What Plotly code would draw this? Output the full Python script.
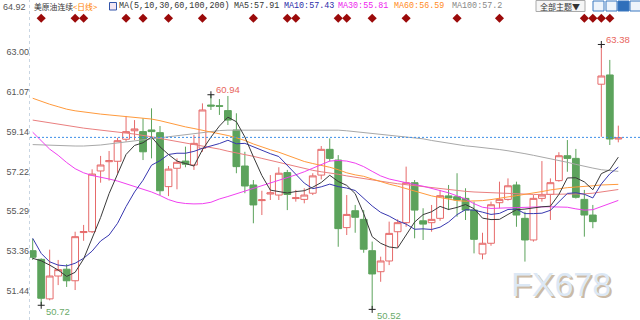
import plotly.graph_objects as go

# ---------------- data ----------------
opens = [53.37, 52.95, 51.03, 52.14, 52.47, 51.91, 54.25, 54.29, 57.24, 57.69,
         57.71, 58.78, 59.19, 59.15, 59.23, 59.10, 56.48, 57.37, 57.72, 57.53,
         58.34, 60.44, 60.41, 60.17, 59.23, 57.48, 56.56, 55.80, 56.12, 56.07,
         57.16, 55.90, 55.86, 56.16, 57.04, 58.29, 57.77, 54.49, 55.31, 54.89,
         53.37, 52.35, 52.87, 54.29, 54.73, 56.67, 54.82, 54.73, 54.94, 56.03,
         55.99, 55.91, 55.34, 53.21, 53.73, 55.70, 55.86, 56.56, 54.94, 53.89,
         55.91, 56.10, 56.77, 57.98, 57.85, 55.86, 55.10, 61.45, 61.90, 58.79]
highs = [53.95, 53.00, 53.42, 52.92, 52.72, 54.29, 54.62, 57.32, 57.97, 58.21,
         58.85, 59.91, 59.71, 59.80, 60.28, 59.42, 57.48, 57.85, 58.42, 58.99,
         60.52, 60.94, 60.73, 60.88, 60.04, 58.17, 56.80, 56.28, 57.04, 57.42,
         57.29, 56.32, 56.40, 57.13, 58.45, 58.82, 58.01, 56.07, 55.59, 55.34,
         53.81, 53.08, 54.78, 54.89, 57.45, 56.80, 55.43, 55.59, 56.32, 56.56,
         57.13, 56.40, 55.75, 54.24, 55.75, 56.72, 56.88, 56.72, 55.26, 56.07,
         57.72, 56.88, 58.15, 58.74, 58.31, 56.32, 55.59, 63.38, 62.63, 59.44]
lows = [52.92, 50.72, 50.96, 51.70, 51.61, 51.46, 53.85, 54.23, 56.67, 56.77,
        57.13, 58.66, 58.74, 57.77, 57.85, 56.07, 56.02, 56.35, 57.42, 57.29,
        58.17, 60.20, 59.96, 59.47, 57.13, 56.16, 54.70, 55.10, 55.83, 55.83,
        55.34, 55.75, 55.67, 56.07, 56.83, 57.70, 53.56, 54.13, 54.24, 53.27,
        50.52, 51.86, 52.67, 53.53, 54.53, 53.97, 53.89, 54.29, 54.82, 55.34,
        55.02, 54.86, 53.24, 52.95, 53.61, 55.43, 55.80, 54.53, 52.84, 53.81,
        55.75, 54.86, 56.72, 57.20, 55.90, 54.05, 54.46, 58.90, 58.50, 58.63]
closes = [53.05, 51.06, 52.14, 52.45, 51.91, 54.05, 54.30, 57.09, 57.53, 57.74,
          58.71, 59.15, 59.28, 58.17, 59.15, 56.28, 57.33, 57.66, 57.57, 58.58,
          60.20, 60.39, 60.38, 59.71, 57.45, 56.51, 55.59, 55.84, 56.18, 57.13,
          56.10, 55.94, 56.07, 57.00, 58.29, 57.85, 54.44, 55.13, 54.99, 53.44,
          52.24, 52.87, 54.21, 54.73, 56.67, 55.34, 54.66, 54.89, 56.04, 55.93,
          55.83, 55.34, 53.92, 53.73, 55.60, 55.86, 56.52, 55.10, 53.89, 55.91,
          56.07, 56.67, 57.98, 57.85, 55.96, 55.10, 54.78, 61.85, 58.79, 58.85]

ma5 = [53.00, 52.88, 52.67, 52.43, 52.12, 52.32, 52.97, 53.96, 54.98, 56.14,
       57.07, 58.04, 58.48, 58.61, 58.89, 58.41, 58.04, 57.72, 57.60, 57.48,
       58.27, 58.88, 59.42, 59.85, 59.63, 58.89, 57.93, 57.02, 56.31, 56.25,
       56.17, 56.24, 56.28, 56.45, 56.68, 57.03, 56.73, 56.54, 56.14, 55.17,
       54.05, 53.73, 53.55, 53.50, 54.14, 54.76, 55.12, 55.26, 55.52, 55.37,
       55.47, 55.61, 55.41, 54.95, 54.88, 54.89, 55.13, 55.36, 55.39, 55.46,
       55.50, 55.53, 56.10, 56.90, 56.91, 56.71, 56.33, 57.11, 57.30, 57.91]
ma10 = [53.97, 53.24, 52.83, 52.67, 52.63, 52.76, 53.00, 53.35, 53.84, 54.13,
        54.70, 55.51, 56.22, 56.79, 57.52, 57.74, 58.04, 58.10, 58.10, 58.19,
        58.34, 58.46, 58.57, 58.73, 58.56, 58.58, 58.40, 58.22, 58.08, 57.94,
        57.53, 57.08, 56.65, 56.38, 56.47, 56.60, 56.48, 56.41, 56.29, 55.93,
        55.54, 55.23, 55.05, 54.82, 54.66, 54.41, 54.43, 54.40, 54.51, 54.76,
        55.12, 55.36, 55.34, 55.24, 55.13, 55.18, 55.37, 55.39, 55.17, 55.17,
        55.19, 55.33, 55.73, 56.15, 56.18, 56.11, 55.93, 56.61, 57.10, 57.43]
ma30 = [59.12, 58.70, 58.30, 58.00, 57.65, 57.35, 57.15, 57.02, 56.95, 56.85,
        56.75, 56.62, 56.50, 56.38, 56.22, 56.05, 55.85, 55.72, 55.66, 55.64,
        55.65, 55.72, 55.88, 56.00, 56.13, 56.25, 56.40, 56.52, 56.65, 56.77,
        56.90, 57.05, 57.20, 57.38, 57.58, 57.72, 57.75, 57.72, 57.62, 57.45,
        57.22, 57.00, 56.85, 56.75, 56.65, 56.58, 56.50, 56.40, 56.30, 56.18,
        56.03, 55.88, 55.65, 55.48, 55.42, 55.42, 55.45, 55.46, 55.48, 55.50,
        55.50, 55.50, 55.50, 55.48, 55.40, 55.34, 55.36, 55.52, 55.68, 55.81]
ma60 = [60.77, 60.62, 60.48, 60.36, 60.24, 60.16, 60.10, 60.05, 60.00, 59.96,
        59.92, 59.89, 59.87, 59.82, 59.76, 59.68, 59.58, 59.45, 59.38, 59.30,
        59.22, 59.15, 59.05, 58.96, 58.85, 58.72, 58.55, 58.40, 58.27, 58.15,
        58.00, 57.85, 57.70, 57.60, 57.52, 57.42, 57.30, 57.15, 57.05, 56.98,
        56.85, 56.72, 56.60, 56.50, 56.38, 56.26, 56.15, 56.03, 55.95, 55.86,
        55.80, 55.77, 55.77, 55.80, 55.85, 55.90, 55.98, 56.04, 56.10, 56.16,
        56.24, 56.32, 56.38, 56.43, 56.46, 56.48, 56.52, 56.56, 56.57, 56.59]
ma100 = [58.52, 58.50, 58.48, 58.46, 58.45, 58.45, 58.45, 58.47, 58.50, 58.55,
         58.60, 58.65, 58.70, 58.75, 58.80, 58.86, 58.92, 58.98, 59.03, 59.08,
         59.12, 59.16, 59.20, 59.22, 59.22, 59.22, 59.22, 59.22, 59.22, 59.22,
         59.22, 59.23, 59.24, 59.25, 59.25, 59.24, 59.22, 59.19, 59.15, 59.10,
         59.05, 59.00, 58.96, 58.93, 58.90, 58.86, 58.80, 58.72, 58.65, 58.58,
         58.52, 58.46, 58.42, 58.38, 58.33, 58.28, 58.22, 58.16, 58.08, 58.00,
         57.92, 57.84, 57.76, 57.66, 57.56, 57.46, 57.38, 57.30, 57.26, 57.22]
ma200 = [59.71, 59.64, 59.57, 59.50, 59.44, 59.38, 59.32, 59.27, 59.23, 59.18,
         59.13, 59.08, 59.03, 58.98, 58.90, 58.82, 58.75, 58.68, 58.60, 58.54,
         58.47, 58.40, 58.30, 58.20, 58.12, 58.05, 57.95, 57.85, 57.75, 57.65,
         57.55, 57.45, 57.35, 57.27, 57.20, 57.15, 57.08, 57.00, 56.93, 56.87,
         56.80, 56.74, 56.68, 56.62, 56.57, 56.52, 56.47, 56.42, 56.38, 56.33,
         56.29, 56.25, 56.22, 56.20, 56.18, 56.16, 56.14, 56.12, 56.10, 56.10,
         56.10, 56.10, 56.10, 56.10, 56.11, 56.13, 56.16, 56.22, 56.28, 56.34]

signal_idx = [1, 5, 6, 11, 13, 16, 20, 26, 30, 31, 36, 37, 40, 44, 50, 55, 65, 66, 67, 68]
marked_high_idx = [21, 67]
marked_low_idx = [1, 40]
price_line = 58.87

y_tick_values = [51.44, 53.36, 55.29, 57.22, 59.14, 61.07, 63.00]
y_tick_labels = ["51.44", "53.36", "55.29", "57.22", "59.14", "61.07", "63.00"]
top_tick_value = 64.92
top_tick_label = "64.92"

legend_items = [
    ("美原油连续", "#333333", 31.5, "cjk"),
    ("<日线>", "#ff8000", 71.0, "cjk"),
    ("MA(5,10,30,60,100,200)", "#333333", 117.0, "mono"),
    ("MA5:57.91", "#333333", 231.5, "mono"),
    ("MA10:57.43", "#2a2aa8", 281.5, "mono"),
    ("MA30:55.81", "#ee22ee", 336.0, "mono"),
    ("MA60:56.59", "#ff8a1c", 391.5, "mono"),
    ("MA100:57.2", "#888888", 450.0, "mono"),
]

# ---------------- styling ----------------
W, H = 640, 320
UP = "#e66a6a"
DOWN = "#5ca35c"
ma_styles = [
    (ma200, "#ea7f7f"),
    (ma100, "#a8a8a8"),
    (ma60, "#ff9a3c"),
    (ma30, "#f040f0"),
    (ma10, "#3838b0"),
    (ma5, "#3a3a3a"),
]


def px_x(p):
    return p / W


def px_y(p):
    return 1 - p / H


n = len(closes)
idx = list(range(n))

fig = go.Figure()
fig.add_trace(go.Candlestick(
    x=idx, open=opens, high=highs, low=lows, close=closes,
    increasing=dict(line=dict(color=UP, width=1), fillcolor="white"),
    decreasing=dict(line=dict(color=DOWN, width=1), fillcolor=DOWN),
    whiskerwidth=0, hoverinfo="skip", showlegend=False,
))
for vals, col in ma_styles:
    fig.add_trace(go.Scatter(x=idx, y=vals, mode="lines",
                             line=dict(color=col, width=1),
                             hoverinfo="skip", showlegend=False))

# signal diamonds along the top
fig.add_trace(go.Scatter(
    x=signal_idx, y=[0.943] * len(signal_idx), yaxis="y2", mode="markers",
    marker=dict(symbol="diamond", size=7, color="#9b0a0a"),
    hoverinfo="skip", showlegend=False))

# extreme markers
ext_x = marked_high_idx + marked_low_idx
ext_y = [highs[i] for i in marked_high_idx] + [lows[i] for i in marked_low_idx]
fig.add_trace(go.Scatter(
    x=ext_x, y=ext_y, mode="markers",
    marker=dict(symbol="cross-thin", size=5, line=dict(color="#222222", width=1)),
    hoverinfo="skip", showlegend=False))

annotations = []
for i in marked_high_idx:
    annotations.append(dict(x=i, y=highs[i], text=f"{highs[i]:.2f}", showarrow=False,
                            xanchor="left", yanchor="middle", xshift=3, yshift=5,
                            font=dict(family="Liberation Sans, Arial", size=9.5, color="#e8655c")))
for i in marked_low_idx:
    annotations.append(dict(x=i, y=lows[i], text=f"{lows[i]:.2f}", showarrow=False,
                            xanchor="left", yanchor="middle", xshift=3, yshift=-6,
                            font=dict(family="Liberation Sans, Arial", size=9.5, color="#6aaa6a")))

# top tick label (clamped at top edge like the reference)
annotations.append(dict(xref="paper", yref="y", x=px_x(28), y=top_tick_value, text=top_tick_label,
                        showarrow=False, xanchor="right", yanchor="middle", yshift=6,
                        font=dict(family="Liberation Sans, Arial", size=9, color="#555555")))

# legend line at the top
for text, col, xpx, kind in legend_items:
    fam = "Noto Sans CJK SC" if kind == "cjk" else "Liberation Mono, DejaVu Sans Mono"
    size = 7.8 if kind == "cjk" else 8.4
    annotations.append(dict(xref="paper", yref="paper", x=px_x(xpx), y=px_y(6.5),
                            text=text, showarrow=False, xanchor="left", yanchor="middle",
                            font=dict(family=fam, size=size, color=col)))

# button text
annotations.append(dict(xref="paper", yref="paper", x=px_x(560), y=px_y(6),
                        text="全部主题▼", showarrow=False, xanchor="center", yanchor="middle",
                        font=dict(family="Noto Sans CJK SC", size=8, color="#333333")))

# watermark (shadow + face)
annotations.append(dict(xref="paper", yref="paper", x=px_x(562.5), y=px_y(285.5),
                        text="FX678", showarrow=False, xanchor="center", yanchor="middle",
                        font=dict(family="Liberation Sans, Arial", size=34, color="#cbbaa6")))
annotations.append(dict(xref="paper", yref="paper", x=px_x(561), y=px_y(284),
                        text="FX678", showarrow=False, xanchor="center", yanchor="middle",
                        font=dict(family="Liberation Sans, Arial", size=34, color="#dce8f5")))

shapes = [
    # current price dashed line
    dict(type="line", xref="paper", yref="y", x0=px_x(30), x1=1, y0=price_line, y1=price_line,
         line=dict(color="#3d8fe8", width=1, dash="2px,2px"), layer="above"),
    # left dotted border of plot
    dict(type="line", xref="paper", yref="paper", x0=px_x(29.5), x1=px_x(29.5), y0=0, y1=1,
         line=dict(color="#c9d6e3", width=1, dash="dot")),
    # MA icon
    dict(type="rect", xref="paper", yref="paper", x0=px_x(109.5), x1=px_x(116.5),
         y0=px_y(10), y1=px_y(2.5), line=dict(color="#3355aa", width=1), fillcolor="#f3e6f3"),
    # button
    dict(type="rect", xref="paper", yref="paper", x0=px_x(536), x1=px_x(585),
         y0=px_y(11.5), y1=px_y(0.5), line=dict(color="#aaaaaa", width=1), fillcolor="#f6f6f6"),
]
icon_specs = [(593, 604, "#eef4fb"), (606, 617, "#eef4fb"), (618, 629, "#2f6fba"), (630, 641, "#eef4fb")]
for x0, x1, fc in icon_specs:
    shapes.append(dict(type="rect", xref="paper", yref="paper", x0=px_x(x0), x1=px_x(x1),
                       y0=px_y(11), y1=px_y(1), line=dict(color="#3a78c0", width=1), fillcolor=fc))

x_unit = 585.6 / 69
x0r = -2.7 / x_unit
x1r = x0r + 610 / x_unit

fig.update_layout(
    width=W, height=H,
    margin=dict(l=0, r=0, t=0, b=0),
    paper_bgcolor="white", plot_bgcolor="white",
    showlegend=False,
    boxgap=0.2, boxgroupgap=0,
    xaxis=dict(domain=[30 / W, 1], range=[x0r, x1r], showgrid=False, zeroline=False,
               showticklabels=False, ticks="", rangeslider=dict(visible=False), fixedrange=True),
    yaxis=dict(range=[50.005, 65.539], tickvals=y_tick_values, ticktext=y_tick_labels,
               showgrid=False, zeroline=False, ticks="", showline=False,
               tickfont=dict(family="Liberation Sans, Arial", size=9, color="#555555"),
               fixedrange=True),
    yaxis2=dict(overlaying="y", range=[0, 1], visible=False, fixedrange=True),
    annotations=annotations,
    shapes=shapes,
)

fig.write_html("out.html")
